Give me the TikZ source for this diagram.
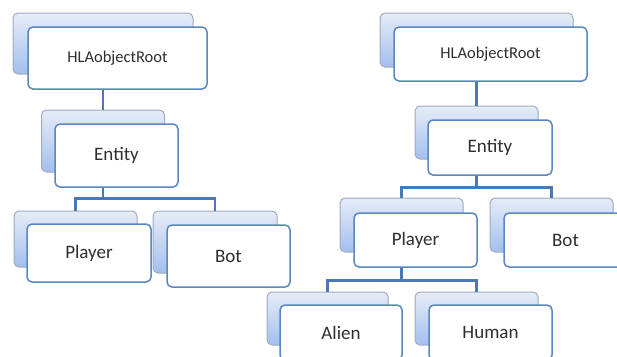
\documentclass[tikz,border=0pt]{standalone}
\usepackage{fontspec}
\setmainfont{Carlito}
\usepackage{xcolor}
\usetikzlibrary{positioning}

\definecolor{linkblue}{HTML}{4A7AB6}
\definecolor{frontline}{HTML}{5B87C0}
\definecolor{backline}{HTML}{9FAAC0}
\definecolor{backtop}{HTML}{E6ECF7}
\definecolor{backbot}{HTML}{A3BFEE}
\definecolor{labelgray}{HTML}{2E2E2E}

\begin{document}
\begin{tikzpicture}[x=1pt,y=-1pt,
    back/.style={draw=backline, line width=1pt, rounded corners=5pt,
      top color=backtop, bottom color=backbot, inner sep=0pt},
    front/.style={draw=frontline, line width=1.5pt, rounded corners=5pt,
      fill=white, inner sep=0pt, text=labelgray},
    rootfont/.style={font=\fontsize{16.5}{18}\selectfont},
    childfont/.style={font=\fontsize{19}{21}\selectfont},
    link/.style={draw=linkblue, line width=2.6pt}]
      \useasboundingbox (0,0) rectangle (617,356);
      \clip (0,0) rectangle (617,356);
      % left tree
      \node[back, minimum width=180pt, minimum height=61pt] (rootA-back) at (103,43.5) {};
      \node[front, rootfont, minimum width=179pt, minimum height=62pt] (rootA) at (117.5,58) {HLAobjectRoot};
      \node[back, minimum width=123pt, minimum height=62pt] (entityA-back) at (103,141) {};
      \node[front, childfont, minimum width=123pt, minimum height=63pt] (entityA) at (116.5,155.5) {Entity};
      \node[back, minimum width=123pt, minimum height=56pt] (playerA-back) at (75.5,239) {};
      \node[front, childfont, minimum width=124pt, minimum height=58pt] (playerA) at (89,253) {Player};
      \node[back, minimum width=124pt, minimum height=62pt] (botA-back) at (215,242) {};
      \node[front, childfont, minimum width=123pt, minimum height=62pt] (botA) at (228.5,256) {Bot};
      \draw[link] (rootA-back.center |- rootA.south) -- (entityA-back.north);
      \draw[link] (entityA-back.center |- entityA.south) -- ++(0,11) -| (playerA-back.north);
      \draw[link] (entityA-back.center |- entityA.south) -- ++(0,11) -| (botA-back.north);
      % right tree
      \node[back, minimum width=193pt, minimum height=54pt] (rootB-back) at (476.5,40) {};
      \node[front, rootfont, minimum width=193pt, minimum height=54pt] (rootB) at (490.5,54) {HLAobjectRoot};
      \node[back, minimum width=123pt, minimum height=53pt] (entityB-back) at (476.5,132.5) {};
      \node[front, childfont, minimum width=124pt, minimum height=55pt] (entityB) at (490,147.5) {Entity};
      \node[back, minimum width=123pt, minimum height=54pt] (playerB-back) at (401.5,225) {};
      \node[front, childfont, minimum width=123pt, minimum height=54pt] (playerB) at (415.5,240) {Player};
      \node[back, minimum width=123pt, minimum height=54pt] (botB-back) at (551.5,225) {};
      \node[front, childfont, minimum width=123pt, minimum height=54pt] (botB) at (565.5,240) {Bot};
      \node[back, minimum width=121pt, minimum height=53pt] (alienB-back) at (327.5,318.5) {};
      \node[front, childfont, minimum width=122pt, minimum height=55pt] (alienB) at (341,332.5) {Alien};
      \node[back, minimum width=123pt, minimum height=53pt] (humanB-back) at (476.5,318.5) {};
      \node[front, childfont, minimum width=123pt, minimum height=55pt] (humanB) at (490.5,332.5) {Human};
      \draw[link] (rootB-back.center |- rootB.south) -- (entityB-back.north);
      \draw[link] (entityB-back.center |- entityB.south) -- ++(0,12) -| (playerB-back.north);
      \draw[link] (entityB-back.center |- entityB.south) -- ++(0,12) -| (botB-back.north);
      \draw[link] (playerB-back.center |- playerB.south) -- ++(0,13) -| (alienB-back.north);
      \draw[link] (playerB-back.center |- playerB.south) -- ++(0,13) -| (humanB-back.north);
\end{tikzpicture}
\end{document}
